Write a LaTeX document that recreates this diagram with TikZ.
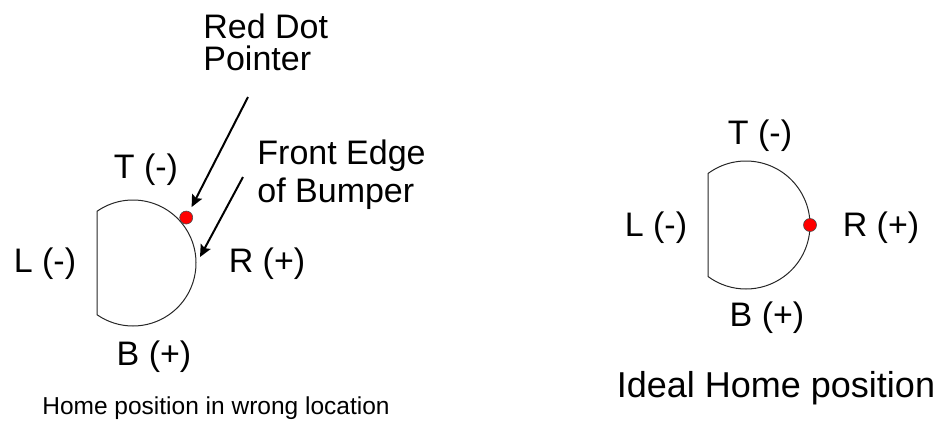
\documentclass[tikz,border=0pt]{standalone}
\usepackage{fontspec}
\setmainfont{Liberation Sans}
\usetikzlibrary{arrows.meta,positioning}

\begin{document}
\begin{tikzpicture}[
        x=0.5pt, y=-0.5pt,
        side/.style={
            inner sep=0pt,
            font=\fontsize{17}{20}\selectfont
        },
        callout/.style={
            inner sep=0pt,
            align=left,
            anchor=north west,
            font=\fontsize{17}{16}\selectfont
        },
        caption/.style={
            inner sep=0pt
        },
        bumper/.style={
            draw=black!85,
            line width=0.5pt
        },
        reddot/.style={
            circle,
            draw=black!70,
            fill=red,
            line width=0.3pt,
            inner sep=0pt,
            minimum size=6.5pt
        },
        pointer/.style={
            -{Stealth[length=6pt,width=5.5pt,inset=1pt]},
            line width=1pt
        }
    ]

        \useasboundingbox (0,0) rectangle (940,424);

        % home position in wrong location
        \coordinate (centreL) at (133,263);
        \draw[bumper] (centreL) ++(-124.8:63)
            arc[start angle=-124.8, end angle=124.8, radius=63] -- cycle;
        \node[reddot] (dotL) at ([shift={(-40.5:70)}]centreL) {};
        \coordinate (edgeL) at (200,257);

        \node[side] (leftT) at (146,170) {T (-)};
        \node[side] (leftL) at (45,264) {L (-)};
        \node[side] (leftR) at (267,264) {R (+)};
        \node[side] (leftB) at (154,357) {B (+)};

        \node[callout] (dotnote) at (203,13)
            {Red Dot\\Pointer};
        \node[callout, font=\fontsize{17}{19}\selectfont] (edgenote) at (257,139)
            {Front Edge\\of Bumper};
        \coordinate (dottail) at (248,97);
        \coordinate (edgetail) at (243,177);

        \draw[pointer, shorten >=2.5pt] (dottail) -- (dotL);
        \draw[pointer] (edgetail) -- (edgeL);

        \node[caption, font=\fontsize{12.25}{14}\selectfont] (wrongtitle) at (216,408)
            {Home position in wrong location};

        % ideal home position
        \coordinate (centreR) at (746,225);
        \draw[bumper] (centreR) ++(-126.4:64)
            arc[start angle=-126.4, end angle=126.4, radius=64] -- cycle;
        \node[reddot] (dotR) at ([shift={(0:64)}]centreR) {};

        \node[side] (rightT) at (760,136) {T (-)};
        \node[side] (rightL) at (656,228) {L (-)};
        \node[side] (rightR) at (881,228) {R (+)};
        \node[side] (rightB) at (767,318) {B (+)};

        \node[caption, font=\fontsize{18}{20}\selectfont] (idealtitle) at (776,388)
            {Ideal Home position};

    \end{tikzpicture}
\end{document}
